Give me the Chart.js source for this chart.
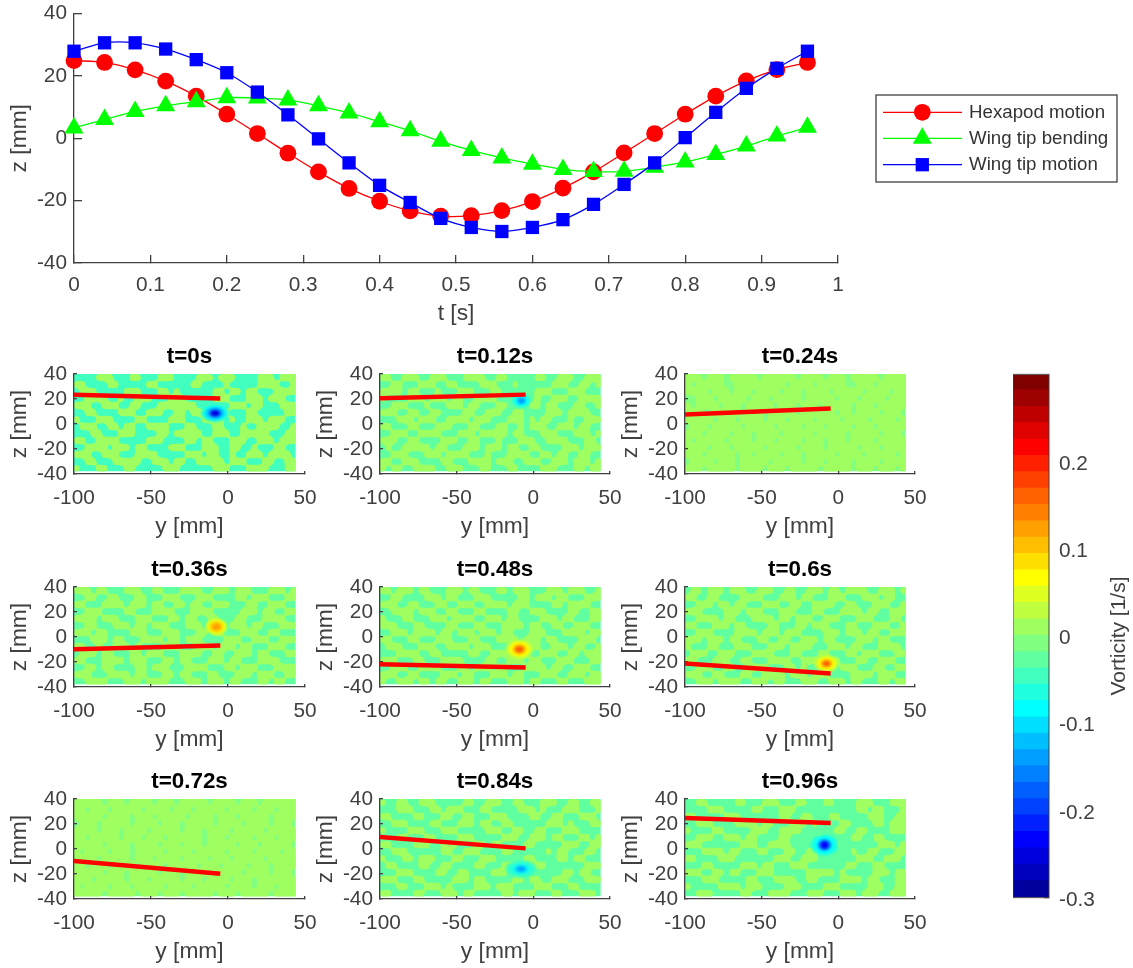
<!DOCTYPE html>
<html><head><meta charset="utf-8">
<script src="https://cdn.jsdelivr.net/npm/chart.js@4/dist/chart.umd.min.js"></script>
<style>
html,body{margin:0;padding:0;background:#fff;width:1133px;height:968px;overflow:hidden}
canvas{position:absolute;filter:blur(0.45px)}
</style></head><body>
<script>
// ---------- main chart data ----------
const T = [0,0.04,0.08,0.12,0.16,0.2,0.24,0.28,0.32,0.36,0.4,0.44,0.48,0.52,0.56,0.6,0.64,0.68,0.72,0.76,0.8,0.84,0.88,0.92,0.96];
const HEXAPOD = [24.9,24.3,21.9,18.3,13.5,7.7,1.5,-4.8,-10.8,-16.1,-20.2,-23.3,-25,-24.8,-23.2,-20.3,-16,-10.8,-4.7,1.5,7.7,13.5,18.4,22,24.3];
const BENDING = [3.3,6,8.6,10.4,11.7,13,12.9,12.3,10.4,8.1,5.3,2.4,-1,-3.9,-6.3,-8.3,-10,-10.7,-10.6,-9.3,-7.6,-5.2,-2.5,0.7,3.5];
const TIP = [27.9,30.6,30.6,28.6,25.2,21,14.8,7.5,-0.2,-7.9,-15.1,-20.6,-25.7,-28.6,-29.9,-28.6,-26.1,-21.2,-14.8,-7.9,0.2,8.3,16,22.4,27.9];
const SERIES_NAMES = ['Hexapod motion','Wing tip bending','Wing tip motion'];
const MAIN_X_TICKS = [0,0.1,0.2,0.3,0.4,0.5,0.6,0.7,0.8,0.9,1];
const Z_TICKS = [-40,-20,0,20,40];
const Y_TICKS = [-100,-50,0,50];
// ---------- colour scale ----------
const COLORMAP = ['#00009f','#0000bf','#0000df','#0000ff','#0020ff','#0040ff','#0060ff','#0080ff','#009fff','#00bfff','#00dfff','#00ffff','#20ffdf','#40ffbf','#60ff9f','#80ff80','#9fff60','#bfff40','#dfff20','#ffff00','#ffdf00','#ffbf00','#ff9f00','#ff8000','#ff6000','#ff4000','#ff2000','#ff0000','#df0000','#bf0000','#9f0000','#800000'];
const BAR_TICKS = [-0.3,-0.2,-0.1,0,0.1,0.2];
const BAR_MIN = -0.3, BAR_MAX = 0.3;
// ---------- panels ----------
const PANEL_LABELS = ['t=0s','t=0.12s','t=0.24s','t=0.36s','t=0.48s','t=0.6s','t=0.72s','t=0.84s','t=0.96s'];
const WING_ROOT_Z = [23.4,20.5,7.6,-9.8,-21.8,-21.2,-9.5,9.6,24.8];
const WING_TIP_Z = [20.4,23.5,12.4,-6.8,-24.4,-29.2,-19.8,0.5,20.8];
const WING_Y = [-100,-5];
const FIELD_LEVEL_LOW = [13,14,15,14,14,14,15,14,14];
const FIELD_LEVEL_HIGH = [16,16,16,16,16,16,16,16,16];
const FIELD_Y = [-100,44], FIELD_Z = [-38,40];
// vortex contours: y, z, half-width y, half-width z, colormap level
const VORTEX_0 = [[-8.4,8.7,9,7,12],[-8.4,8.7,6.8,5.4,10],[-8.4,8.7,4.6,3.7,7],[-8.4,8.7,2.7,2.2,2]];
const VORTEX_1 = [[-7.8,18.6,6,5.5,12],[-7.8,18.6,4.2,3.8,11],[-7.8,18.6,2.6,2.5,8]];
const VORTEX_2 = [];
const VORTEX_3 = [[-7.6,8.2,7,6.5,18],[-7.6,8.2,4.8,4.8,20],[-7.6,8.2,2.8,2.8,22]];
const VORTEX_4 = [[-9.1,-9.8,9,8,17],[-9.1,-9.8,6.8,6,19],[-9.1,-9.8,4.5,4.2,21],[-9.1,-9.8,2.6,2.5,24]];
const VORTEX_5 = [[-7.8,-21.2,8,7,17],[-7.8,-21.2,6,5.2,19],[-7.8,-21.2,4,3.6,21],[-7.8,-21.2,2.3,2.1,24]];
const VORTEX_6 = [];
const VORTEX_7 = [[-8,-16,10,7,13],[-8,-16,7.5,5,12],[-8,-16,4.5,3.2,10],[-8,-16,2.4,1.8,8]];
const VORTEX_8 = [[-9,3.2,9,8.5,12],[-9,3.2,6.5,6.5,11],[-9,3.2,4.4,4.6,7],[-9,3.2,2.4,2.8,3]];
const VORTICES = [VORTEX_0,VORTEX_1,VORTEX_2,VORTEX_3,VORTEX_4,VORTEX_5,VORTEX_6,VORTEX_7,VORTEX_8];
// contour pattern read by eye: # = upper level, . = lower level
const FIELD_0 = [
"....###...##...###....###.###....###.###",
"##....##.....##......##....#.....####..#",
".###.....###...##.#......##.##.##...####",
"..####..#..###...###.....###...###.###..",
"###..###..##...#######......###.##...###",
"..##....###..###..##.###..##...##.....##",
"#...###....##....###...####.#..###.###..",
".###..##.##..####...##...##...#..####..#",
"...##...###....##.#####..###..#####...##",
"##..####.....###....##.##...###..###.###",
"..####.###.##....###...###..##..#...##..",
"###..###...####.....###.##..#..###.####.",
"..##...#####..###.##..#####.###...##..##",
"#...##...##.....###......###...####...##"];
const FIELD_1 = [
"##..###..###...####..##.....##..###..###",
"..##...###..##....###...#......###..##.#",
"####.##...#...###...##......###...###...",
"#....###.###.##..####.......#..###..####",
"..###...#...###.##...##....##.##...##..#",
"###..##..##....##..###..##....###.####..",
"...###.###..####.###...###.#.##...#..###",
"##...##...###...##...##..#.###..###.##..",
"..###..####...###.#####.##...###...###.#",
"###..##....###..##...#...###..####...##.",
".#..#####.##...###.###.##..##....###.###",
"..###...###.####...#...####..##.##..##..",
"##..###....##...####.###..###..###.###.#",
"#.##..####..###...##...##....###...##.##"];
const FIELD_2 = [
"###.###.#####.######.####.###.#####.####",
"#.#####..#########.####.#####..###.#####",
"####.###.###.####.###.####.#####.####.##",
"..###.#####.###.#####.#####.###.####.###",
"#.####.###.#####.###.###.#####.###.#####",
"###..#####.###.#####.######.##.####.###.",
"#####.###.####.###.####.####.####.####.#",
".###.#####.#####.####.###.####.###.#####",
"###.####.###.####.#####.#####.#####.###.",
"#.#####.####.###.####.###.###.####.#####",
"####.###.#####.#####.####.#####.###.####",
"###.#####.##.####.###.#####.####.#####.#",
".####.###.#####.#####.###.####.####.####",
"###.#####.####.###.#####.#####.###.###.#"];
const FIELD_3 = [
"###.##...###..##...####..###.###...###.#",
"..##..##...##...###...###....##.###...##",
"##...####.###.##..##.##..###...##..###..",
"..###....##...####...####.....###.##..##",
"####.###...###...##.##..##...##...####..",
"..##...###.##.###...###..##.###.##...###",
"###.##....###...###...##.##...###..##...",
"...###.##...####.##.###....###..###..###",
"##..#..###.#....###...###.###.##...###..",
".###.##...##.###...####..##..###.##...##",
"##...####.###...##.##...###.##...####...",
"..##.##....##.###...####...##.###...####",
"###...####.##...##.##...##...###.###..##",
"..####...###.####...###.###.##...##.##.."];
const FIELD_4 = [
"##.###.##...###.##...##.###...###.###..#",
"..##....###.##...###.....##.###.##...###",
"###..##...##..###..####.###....##.####..",
"..####.###..##...##....##..###....##..##",
"#...##...###.####..###.##....###.##...##",
"###...##....##...##...####.##..##..###..",
"..###.####.##.###.###.##...###...####.##",
"##...##...###...##...####.###.##....###.",
".###...###..####.###.......##..###.##..#",
"...####..##.....##..####.##..###..##.###",
"###...##...####....##..###.##...###...##",
"..###..####...##.###.##...####.##..###..",
"###..##....###.##...###.##...###..###.##",
"#..###.##.##..###.##...###.##...##...###"];
const FIELD_5 = [
".##.###.###..###..##..###.##.####..###.#",
"##..##....####...###.##...###...###.##..",
"..###.##.##...###..##..####..##...###..#",
"###....###.###...###...##...####.##..###",
"..####.##...####.##.###..###...###...##.",
"##...###.##....##...##.###...##...###..#",
"..###....####.###.###....###.###.##..###",
"###.###.##...##..##..###.##....###.##...",
"#...##...###...###.####...###.##...####.",
".###..###...####...##...##...##.###...##",
"##...###..##...####..###.###...##..###..",
"..###..##..####...##.#...##.###...##..##",
"###..##...##..####.###.###....####.###..",
"..###.####..###.##...###..###.##...##.##"];
const FIELD_6 = [
"#####.###.####.###.#####.####.###.######",
"##.###.#####.####.###.#####.####.###.###",
"#####.####.###.#####.####.###.#####.####",
".###.#####.####.###.#####.####.####.###.",
"####.###.####.#####.###.####.#####.#####",
"##.#####.###.###.######.###.####.###.###",
"#####.####.####.###.###.#####.###.#####.",
"#.####.###.#####.####.#####.####.####.##",
"####.#####.###.####.####.###.#####.#####",
"##.###.####.####.#####.###.####.###.####",
"#####.###.#####.###.####.#####.####.###.",
"###.#####.###.#####.###.####.###.#######",
"#.####.###.#####.####.#####.####.###.###",
"#####.#####.###.###.#####.###.#####.####"];
const FIELD_7 = [
"#..##..###.....##..###..##...###..##..##",
"...###...##.###...##.....###.#...###...#",
"##....##...##..##...###....##..##...###.",
"..###....##...###.##..##......###.#...##",
"#....###...###.....###..##..##...###....",
"...##...##....###.....###..###.##...##.#",
"##....###..###...##.##....##.....###..##",
"..###......##..###....##......#.##...##.",
"#...##.###...##...###.....##....##.##...",
".##....##..##....##...###..###.......###",
"...###....##..##....###..........##.##..",
"###...##.....###.##.....##.##..###...###",
"...##...###.#....###.###....###...##....",
"##....##...###.##.....##.###...##...###."];
const FIELD_8 = [
"..##.....##...###...##...##....###...###",
"....###.....##...###...........##.##...#",
"##.....###.......##..##...##.....###..##",
"..###....####.##...###.#....##....##.###",
"#....##.....###..####......##..##....###",
"..###..###.##....##.....#.....##..##....",
"###.......###..####.....####.......###.#",
"...####.##...##...##..##......#..##...##",
"##....###.......###..###.......###..###.",
"...##.....###.##...###.......##...##....",
"###..##.##...###......#####.#.....###.##",
"...###.....##...####..##....####.##...##",
"#.....####.###....###....###.....###..##",
"..###.....##...####...###...###.###..###"];
const FIELDS = [FIELD_0,FIELD_1,FIELD_2,FIELD_3,FIELD_4,FIELD_5,FIELD_6,FIELD_7,FIELD_8];

// ---------- shared style ----------
const FONT = 'Liberation Sans, Arial, sans-serif';
const TXT = '#404040', AXIS = '#404040';
const TICK_SIZE = 20.8, LABEL_SIZE = 22.8;
const AXIS_W = 68;
function makeCanvas(left,top,w,h){
  const c=document.createElement('canvas');
  c.width=w;c.height=h;c.style.left=left+'px';c.style.top=top+'px';c.style.width=w+'px';c.style.height=h+'px';
  document.body.appendChild(c);return c;
}
function axisStyle(ticks,title,tickLen,pad){
  return {
    type:'linear',min:ticks[0],max:ticks[ticks.length-1],
    afterBuildTicks:s=>{s.ticks=ticks.map(v=>({value:v}));},
    border:{display:true,color:AXIS,width:1.3},
    grid:{drawOnChartArea:false,drawTicks:true,tickLength:-tickLen,color:AXIS,lineWidth:1.3},
    ticks:{color:TXT,font:{family:FONT,size:TICK_SIZE},padding:pad+tickLen,autoSkip:false,maxRotation:0,minRotation:0,
      callback:v=>String(v)},
    title:{display:true,text:title,color:TXT,font:{family:FONT,size:LABEL_SIZE,lineHeight:1.2},padding:{top:0,bottom:0}}
  };
}

// ---------- main line chart ----------
const MAIN_LEFT=74-AXIS_W, MAIN_TOP=-14;
const legendPlugin={id:'matlabLegend',afterDraw(chart){
  const ctx=chart.ctx,dx=MAIN_LEFT,dy=MAIN_TOP,sets=[0,1,2].map(i=>chart.data.datasets[i]);
  const rows=[112.3,138.3,164.7];
  ctx.save();
  ctx.fillStyle='#fff';ctx.fillRect(876-dx,95-dy,241,87);
  ctx.strokeStyle=AXIS;ctx.lineWidth=1.3;ctx.strokeRect(876-dx,95-dy,241,87);
  sets.forEach((d,i)=>{
    const ry=rows[i]-dy;
    ctx.strokeStyle=d.borderColor;ctx.lineWidth=1.3;
    ctx.beginPath();ctx.moveTo(883-dx,ry);ctx.lineTo(962-dx,ry);ctx.stroke();
    ctx.fillStyle=d.pointBackgroundColor;ctx.strokeStyle=d.pointBackgroundColor;
    Chart.helpers.drawPoint(ctx,{pointStyle:d.pointStyle,rotation:0,radius:d.pointRadius,borderWidth:0},922.3-dx,ry);
    ctx.fillStyle='#333';ctx.font='18.7px '+FONT;ctx.textBaseline='middle';ctx.textAlign='left';
    ctx.fillText(d.label,969-dx,ry+0.5);
  });
  ctx.restore();
}};
const pts=a=>a.map((v,i)=>({x:T[i],y:v}));
function lineSet(label,values,color,style,r,order){
  return {label,data:pts(values),borderColor:color,backgroundColor:color,pointBackgroundColor:color,pointBorderColor:color,
    pointBorderWidth:0,borderWidth:1.3,pointStyle:style,pointRadius:r,tension:0.3,order};
}
const mainX=axisStyle(MAIN_X_TICKS,'t [s]',8,9.6);
const mainY=axisStyle(Z_TICKS,'z [mm]',8,7);
mainX.afterFit=s=>{s.height=64;};
mainY.afterFit=s=>{s.width=AXIS_W;};
new Chart(makeCanvas(MAIN_LEFT,MAIN_TOP,1133-MAIN_LEFT,354),{
  type:'line',
  data:{datasets:[
    lineSet(SERIES_NAMES[0],HEXAPOD,'#ff0000','circle',8.4,3),
    lineSet(SERIES_NAMES[1],BENDING,'#00ff00','triangle',11,2),
    lineSet(SERIES_NAMES[2],TIP,'#0000ff','rect',9.4,1)
  ]},
  options:{animation:false,responsive:false,devicePixelRatio:1,clip:false,
    layout:{padding:{left:0,top:13,right:1133-838,bottom:13}},
    plugins:{legend:{display:false},tooltip:{enabled:false}},
    scales:{x:mainX,y:mainY}},
  plugins:[legendPlugin]
});

// ---------- nine small panels ----------
// The contour pattern is smoothed and cut at mid level so its outlines look like filled contours.
function contourLayer(grid,w,h,color){
  const s=document.createElement('canvas');s.width=w;s.height=h;
  const c=s.getContext('2d',{willReadFrequently:true});
  c.fillStyle='#000';c.fillRect(0,0,w,h);
  c.filter='blur(2.2px)';c.fillStyle='#fff';
  const nr=grid.length,nc=grid[0].length,cw=w/nc,ch=h/nr;
  grid.forEach((row,r)=>{for(let k=0;k<nc;k++){if(row[k]==='#')c.fillRect(k*cw-0.4,r*ch-0.4,cw+0.8,ch+0.8);}});
  c.filter='none';
  const img=c.getImageData(0,0,w,h),d=img.data;
  const R=parseInt(color.slice(1,3),16),G=parseInt(color.slice(3,5),16),B=parseInt(color.slice(5,7),16);
  for(let p=0;p<d.length;p+=4){
    const a=Math.max(0,Math.min(1,(d[p]-118)/20));
    d[p]=R;d[p+1]=G;d[p+2]=B;d[p+3]=Math.round(a*255);
  }
  c.putImageData(img,0,0);
  return s;
}
const fieldPlugin={id:'vorticityField',beforeDraw(chart,args,opt){
  const {x,y}=chart.scales,ctx=chart.ctx,i=opt.index,grid=FIELDS[i];
  const x0=x.getPixelForValue(FIELD_Y[0]),x1=x.getPixelForValue(FIELD_Y[1]);
  const y0=y.getPixelForValue(FIELD_Z[1]),y1=y.getPixelForValue(FIELD_Z[0]);
  const low=COLORMAP[FIELD_LEVEL_LOW[i]],high=COLORMAP[FIELD_LEVEL_HIGH[i]];
  ctx.save();
  ctx.beginPath();ctx.rect(x0,y0,x1-x0,y1-y0);ctx.clip();
  ctx.fillStyle=low;ctx.fillRect(x0,y0,x1-x0,y1-y0);
  ctx.filter='blur(0.6px)';
  ctx.drawImage(contourLayer(grid,Math.round(x1-x0),Math.round(y1-y0),high),x0,y0);
  ctx.filter='blur(1px)';
  VORTICES[i].forEach(v=>{
    const px=x.getPixelForValue(v[0]),py=y.getPixelForValue(v[1]);
    const rx=Math.abs(x.getPixelForValue(v[0]+v[2])-px),ry=Math.abs(y.getPixelForValue(v[1]+v[3])-py);
    ctx.fillStyle=COLORMAP[v[4]];ctx.beginPath();ctx.ellipse(px,py,rx,ry,0,0,Math.PI*2);ctx.fill();
  });
  ctx.filter='none';
  ctx.restore();
}};
const COL_LEFT=[74,380,685], COL_W=[231,230,230], ROW_TOP=[374,587,799];
const TITLE_H=28, X_AXIS_H=66;
PANEL_LABELS.forEach((label,i)=>{
  const col=i%3,row=Math.floor(i/3);
  const px=axisStyle(Y_TICKS,'y [mm]',3,11.4);
  const py=axisStyle(Z_TICKS,'z [mm]',3,7);
  px.afterFit=s=>{s.height=X_AXIS_H;};
  py.afterFit=s=>{s.width=AXIS_W;};
  const cv=makeCanvas(COL_LEFT[col]-AXIS_W,ROW_TOP[row]-TITLE_H,2*AXIS_W+COL_W[col],TITLE_H+100+X_AXIS_H);
  new Chart(cv,{
    type:'scatter',
    data:{datasets:[{label:'wing',showLine:true,
      data:[{x:WING_Y[0],y:WING_ROOT_Z[i]},{x:WING_Y[1],y:WING_TIP_Z[i]}],
      borderColor:'#ff0000',borderWidth:4.5,pointRadius:0,tension:0}]},
    options:{animation:false,responsive:false,devicePixelRatio:1,
      layout:{padding:{left:0,top:0,right:AXIS_W,bottom:0}},
      plugins:{legend:{display:false},tooltip:{enabled:false},vorticityField:{index:i},
        title:{display:true,text:label,color:'#000',align:'center',fullSize:false,
          font:{family:FONT,size:22.4,weight:'bold',lineHeight:1},padding:{top:0,bottom:5.6}}},
      scales:{x:px,y:py}},
    plugins:[fieldPlugin]
  });
});

// ---------- colour bar ----------
const barEdge=i=>BAR_MIN+(BAR_MAX-BAR_MIN)*i/COLORMAP.length;
const barPlugin={id:'barFrame',afterDraw(chart){
  const a=chart.chartArea,ctx=chart.ctx;
  ctx.save();
  ctx.strokeStyle='rgba(64,64,64,0.75)';ctx.lineWidth=1.3;
  ctx.strokeRect(a.left,a.top,a.right-a.left,a.bottom-a.top);
  ctx.translate(1119-1013,(a.top+a.bottom)/2);ctx.rotate(-Math.PI/2);
  ctx.fillStyle=TXT;ctx.font='21px '+FONT;ctx.textAlign='center';ctx.textBaseline='middle';
  ctx.fillText('Vorticity [1/s]',0,0);
  ctx.restore();
}};
new Chart(makeCanvas(1013,347,120,578),{
  type:'bar',
  data:{labels:[''],datasets:COLORMAP.map((c,i)=>({label:String(i),data:[[barEdge(i),Math.min(BAR_MAX,barEdge(i+1)+0.001)]],backgroundColor:c,borderWidth:0,barPercentage:1,categoryPercentage:1,grouped:false}))},
  options:{animation:false,responsive:false,devicePixelRatio:1,
    layout:{padding:{left:0,top:12,right:0,bottom:14}},
    plugins:{legend:{display:false},tooltip:{enabled:false}},
    scales:{
      x:{display:false},
      y:{type:'linear',position:'right',min:BAR_MIN,max:BAR_MAX,
        afterBuildTicks:s=>{s.ticks=BAR_TICKS.map(v=>({value:v}));},
        afterFit:s=>{s.width=84;},
        border:{display:false},
        grid:{drawOnChartArea:false,tickLength:-5,color:AXIS,lineWidth:1.3},
        ticks:{color:TXT,font:{family:FONT,size:TICK_SIZE},padding:15,labelOffset:2.5,autoSkip:false,callback:v=>String(Math.round(v*10)/10)}}
    }},
  plugins:[barPlugin]
});
</script>
</body></html>
